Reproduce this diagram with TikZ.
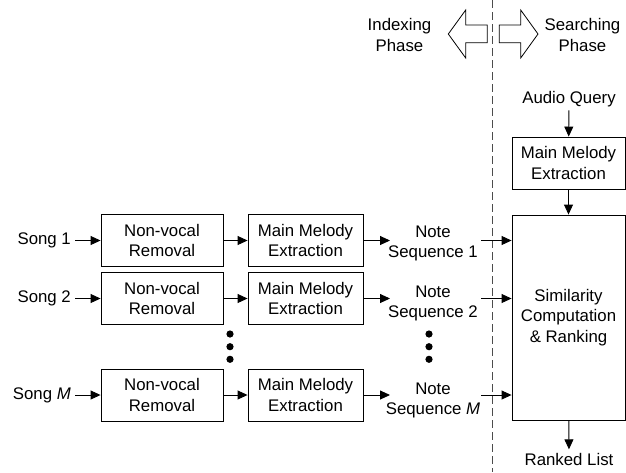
\documentclass[tikz,border=0pt]{standalone}
\usepackage{fontspec}
\setmainfont{Liberation Sans}
\usetikzlibrary{arrows.meta}
\begin{document}
\begin{tikzpicture}[x=1pt,y=-1pt,
  every node/.style={font=\fontsize{16.8}{20.5}\selectfont, align=center},
  box/.style={draw, line width=0.9pt, inner sep=0pt, minimum height=52pt},
  nvbox/.style={box, minimum width=122pt},
  mmbox/.style={box, minimum width=115pt},
  arr/.style={-{Triangle[length=10pt,width=9pt]}, line width=0.9pt},
  phasearrow/.style={draw, line width=0.8pt},
  songlabel/.style={anchor=east, inner xsep=4pt, inner ysep=0pt}]
  \useasboundingbox (0,0) rectangle (626,472);
  % Phase separator
  \draw[gray!60!black, line width=1.3pt, dash pattern=on 8pt off 4pt] (492.5,0) -- (492.5,472);
  \draw[phasearrow] (487.3,25) -- (465.7,25) -- (465.7,10) -- (448.3,34) -- (465.7,58)
    -- (465.7,42.7) -- (487.3,42.7) -- cycle;
  \draw[phasearrow] (499.3,25) -- (520.7,25) -- (520.7,10) -- (538,34) -- (520.7,58)
    -- (520.7,42.7) -- (499.3,42.7) -- cycle;
  \node (idx) at (399.5,35) {Indexing\\Phase};
  \node (srch) at (582.5,35) {Searching\\Phase};
  % Indexing rows
  \node[songlabel] (s1) at (75,240.5) {Song 1};
  \node[nvbox] (nv1) at (162,240.5) {Non-vocal\\Removal};
  \node[mmbox] (mm1) at (305.5,240.5) {Main Melody\\Extraction};
  \node (ns1) at (433,243.5) {Note\\Sequence 1};
  \node[songlabel] (s2) at (75,298.5) {Song 2};
  \node[nvbox] (nv2) at (162,298.5) {Non-vocal\\Removal};
  \node[mmbox] (mm2) at (305.5,298.5) {Main Melody\\Extraction};
  \node (ns2) at (433,303.5) {Note\\Sequence 2};
  \node[songlabel] (sm) at (75,395) {Song \textit{M}};
  \node[nvbox] (nvm) at (162,395) {Non-vocal\\Removal};
  \node[mmbox] (mmm) at (305.5,395) {Main Melody\\Extraction};
  \node (nsm) at (433,400.5) {Note\\Sequence \textit{M}};
  % Searching side
  \node (aq) at (569,99) {Audio Query};
  \node[box, minimum width=113pt] (mmq) at (568.5,163) {Main Melody\\Extraction};
  \node[box, minimum width=113pt, minimum height=205pt] (sim) at (568.5,317.5)
    {Similarity\\Computation\\\& Ranking};
  \node (rl) at (569,459) {Ranked List};
  % Arrow ends
  \coordinate (in1) at (390,240.5);
  \coordinate (in2) at (390,298.5);
  \coordinate (inm) at (390,395);
  \coordinate (out1) at (481,240.5);
  \coordinate (out2) at (481,298.5);
  \coordinate (outm) at (481,395);
  % Connections
  \draw[arr] (s1.east) -- (nv1.west);
  \draw[arr] (nv1) -- (mm1);
  \draw[arr] (mm1.east) -- (in1);
  \draw[arr] (out1) -- (out1 -| sim.west);
  \draw[arr] (s2.east) -- (nv2.west);
  \draw[arr] (nv2) -- (mm2);
  \draw[arr] (mm2.east) -- (in2);
  \draw[arr] (out2) -- (out2 -| sim.west);
  \draw[arr] (sm.east) -- (nvm.west);
  \draw[arr] (nvm) -- (mmm);
  \draw[arr] (mmm.east) -- (inm);
  \draw[arr] (outm) -- (outm -| sim.west);
  \draw[arr] (aq) -- (mmq);
  \draw[arr] (mmq) -- (sim);
  \draw[arr] (sim) -- (rl);
  % Dots
  \fill (230,334) circle (3.6) (230,346.7) circle (3.6) (230,359.3) circle (3.6);
  \fill (429,334) circle (3.6) (429,346.7) circle (3.6) (429,359.3) circle (3.6);
\end{tikzpicture}
\end{document}
